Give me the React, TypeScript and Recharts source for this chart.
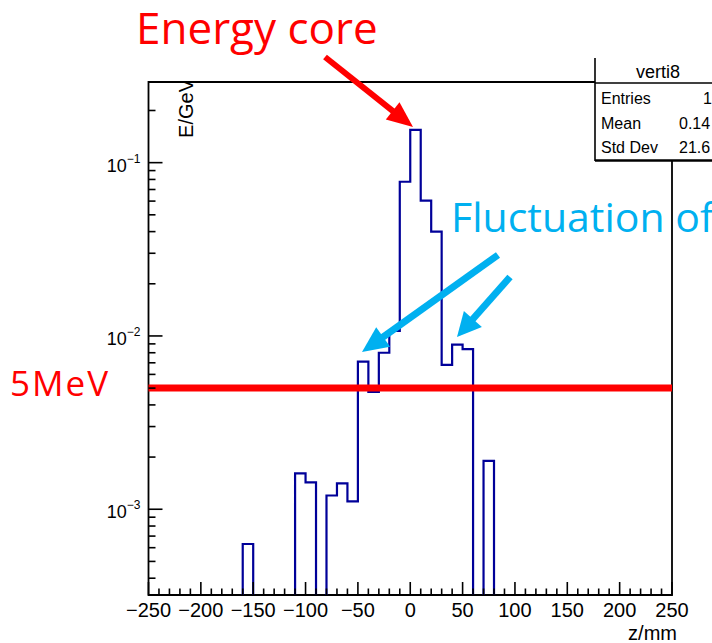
import { LineChart, Line, XAxis, YAxis, ReferenceLine, ReferenceArea } from "recharts";

// histogram "verti8": energy deposit per 10 mm bin along z
const binEdges = [
  -250, -240, -230, -220, -210, -200, -190, -180, -170, -160,
  -150, -140, -130, -120, -110, -100, -90, -80, -70, -60,
  -50, -40, -30, -20, -10, 0, 10, 20, 30, 40,
  50, 60, 70, 80, 90, 100, 110, 120, 130, 140,
  150, 160, 170, 180, 190, 200, 210, 220, 230, 240, 250,
];
const energy = [
  0, 0, 0, 0, 0, 0, 0, 0, 0, 6.3e-4,
  0, 0, 0, 0, 1.61e-3, 1.43e-3, 0, 1.2e-3, 1.41e-3, 1.11e-3,
  7.1e-3, 4.76e-3, 8.0e-3, 1.07e-2, 0.0776, 0.1545, 0.0604, 0.04, 6.8e-3, 8.9e-3,
  8.4e-3, 0, 1.9e-3, 0, 0, 0, 0, 0, 0, 0,
  0, 0, 0, 0, 0, 0, 0, 0, 0, 0,
];
const zLabels = [-250, -200, -150, -100, -50, 0, 50, 100, 150, 200, 250];
const yTicks = [
  4e-4, 5e-4, 6e-4, 7e-4, 8e-4, 9e-4,
  1e-3, 2e-3, 3e-3, 4e-3, 5e-3, 6e-3, 7e-3, 8e-3, 9e-3,
  1e-2, 2e-2, 3e-2, 4e-2, 5e-2, 6e-2, 7e-2, 8e-2, 9e-2,
  1e-1, 2e-1,
];
const yDecades = [1e-3, 1e-2, 1e-1];
const yExponents = ["−3", "−2", "−1"];
const cutLevel = 0.005; // 5 MeV
const statsRows = [
  ["Entries", "1"],
  ["Mean", "0.14"],
  ["Std Dev", "21.6"],
];

const Y_MIN = 3.2e-4;
const Y_MAX = 0.292;
const FLOOR = 1e-6; // empty bins, pushed below the frame
const ROOT_FONT = "'Liberation Sans', Arial, sans-serif";
const NOTE_FONT = "'Open Sans', sans-serif";

const rows = binEdges.map((z, i) => {
  const v = i < energy.length ? energy[i] : energy[energy.length - 1];
  return { z, e: v > 0 ? v : FLOOR };
});

const renderXTick = (props: any) => {
  const { x, y, payload } = props;
  const v = payload.value as number;
  const major = zLabels.includes(v);
  return (
    <g key={`xt-${v}`}>
      <line x1={x} y1={y} x2={x} y2={y - (major ? 13 : 6.5)} stroke="#000" strokeWidth={1.6} />
      {major && (
        <text x={x} y={y + 22} textAnchor="middle" fontSize={20} fontFamily={ROOT_FONT} fill="#000">
          {v < 0 ? `−${-v}` : `${v}`}
        </text>
      )}
    </g>
  );
};

const renderYTick = (props: any) => {
  const { x, y, payload } = props;
  const idx = yDecades.findIndex((d) => Math.abs(d - payload.value) < d * 1e-6);
  const major = idx >= 0;
  return (
    <g key={`yt-${payload.value}`}>
      <line x1={x} y1={y} x2={x + (major ? 14 : 7)} y2={y} stroke="#000" strokeWidth={1.6} />
      {major && (
        <text x={x - 8} y={y + 9} textAnchor="end" fontSize={18} fontFamily={ROOT_FONT} fill="#000">
          10
          <tspan fontSize={12} dy={-9}>
            {yExponents[idx]}
          </tspan>
        </text>
      )}
    </g>
  );
};

function Arrow({
  from,
  to,
  color,
  width,
  head,
  headWidth,
}: {
  from: [number, number];
  to: [number, number];
  color: string;
  width: number;
  head: number;
  headWidth: number;
}) {
  const [x1, y1] = from;
  const [x2, y2] = to;
  const len = Math.hypot(x2 - x1, y2 - y1);
  const ux = (x2 - x1) / len;
  const uy = (y2 - y1) / len;
  const bx = x2 - ux * head;
  const by = y2 - uy * head;
  const px = -uy * (headWidth / 2);
  const py = ux * (headWidth / 2);
  return (
    <g>
      <line x1={x1} y1={y1} x2={bx + ux * 2} y2={by + uy * 2} stroke={color} strokeWidth={width} />
      <polygon points={`${x2},${y2} ${bx + px},${by + py} ${bx - px},${by - py}`} fill={color} />
    </g>
  );
}

export default function App() {
  return (
    <div style={{ position: "absolute", left: 0, top: 0, width: 712, height: 643, background: "#fff", overflow: "hidden" }}>
      <LineChart width={712} height={643} data={rows} margin={{ top: 82, right: 40, bottom: 18, left: 88.5 }}>
        <XAxis
          dataKey="z"
          type="number"
          domain={[-250, 250]}
          ticks={binEdges}
          interval={0}
          height={30}
          tickSize={0}
          tickMargin={0}
          axisLine={false}
          tickLine={false}
          tick={renderXTick}
        />
        <YAxis
          scale="log"
          domain={[Y_MIN, Y_MAX]}
          allowDataOverflow
          ticks={yTicks}
          interval={0}
          width={60}
          tickSize={0}
          tickMargin={0}
          axisLine={false}
          tickLine={false}
          tick={renderYTick}
        />
        <ReferenceArea x1={-250} x2={250} y1={Y_MIN} y2={Y_MAX} fill="none" stroke="#000" strokeWidth={1.8} ifOverflow="visible" />
        <Line
          type="stepAfter"
          dataKey="e"
          stroke="#000099"
          strokeWidth={2.2}
          dot={false}
          activeDot={false}
          isAnimationActive={false}
        />
        <ReferenceLine y={cutLevel} stroke="#ff0000" strokeWidth={7} />
      </LineChart>

      <svg width={712} height={643} style={{ position: "absolute", left: 0, top: 0, pointerEvents: "none" }}>
        <defs>
          <clipPath id="frameClip">
            <rect x={148} y={83} width={524} height={512} />
          </clipPath>
        </defs>

        {/* axis titles */}
        <g clipPath="url(#frameClip)">
          <text transform="translate(193,79) rotate(-90)" textAnchor="end" fontSize={20} fontFamily={ROOT_FONT} fill="#000">
            E/GeV
          </text>
        </g>
        <text x={677} y={640} textAnchor="end" fontSize={20} fontFamily={ROOT_FONT} fill="#000">
          z/mm
        </text>

        {/* stats box */}
        <rect x={595} y={58} width={130} height={102} fill="#fff" />
        <line x1={595} y1={58} x2={595} y2={161} stroke="#000" strokeWidth={1.6} />
        <line x1={595} y1={83} x2={712} y2={83} stroke="#000" strokeWidth={1.6} />
        <line x1={595} y1={160.5} x2={712} y2={160.5} stroke="#000" strokeWidth={2.4} />
        <text x={658} y={78} textAnchor="middle" fontSize={18} fontFamily={ROOT_FONT} fill="#000">
          verti8
        </text>
        {statsRows.map(([k, v], i) => (
          <g key={k}>
            <text x={601} y={104 + i * 24.5} fontSize={16} fontFamily={ROOT_FONT} fill="#000">
              {k}
            </text>
            <text x={i === 0 ? 703 : 679} y={104 + i * 24.5} fontSize={16} fontFamily={ROOT_FONT} fill="#000">
              {v}
            </text>
          </g>
        ))}

        {/* annotations */}
        <text x={136} y={44} fontSize={44} fontFamily={NOTE_FONT} fill="#ff0000">
          Energy core
        </text>
        <Arrow from={[325, 57]} to={[413, 127]} color="#ff0000" width={6} head={26} headWidth={22} />

        <text x={451} y={232} fontSize={41} fontFamily={NOTE_FONT} fill="#00b0f0">
          Fluctuation of
        </text>
        <Arrow from={[498, 255]} to={[362, 352]} color="#00b0f0" width={7} head={26} headWidth={24} />
        <Arrow from={[510, 277]} to={[457, 337]} color="#00b0f0" width={7} head={24} headWidth={24} />

        <text x={10} y={396} fontSize={35} letterSpacing={2} fontFamily={NOTE_FONT} fill="#ff0000">
          5MeV
        </text>
      </svg>
    </div>
  );
}
